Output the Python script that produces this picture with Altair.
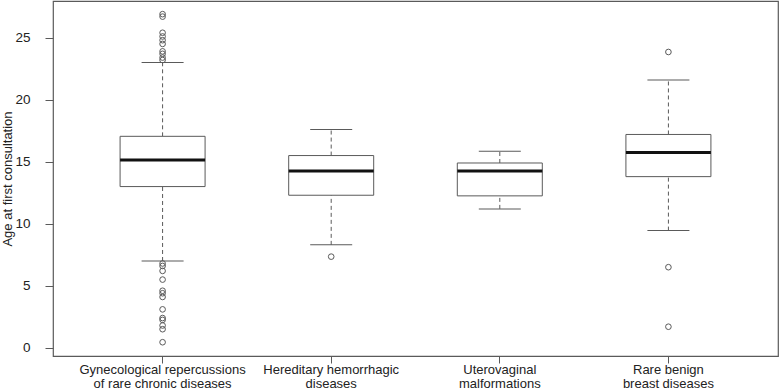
import altair as alt
import pandas as pd

categories = [
    "Gynecological repercussions|of rare chronic diseases",
    "Hereditary hemorrhagic|diseases",
    "Uterovaginal|malformations",
    "Rare benign|breast diseases",
]
lower_whisker = [7.0, 8.3, 11.2, 9.45]
q1 = [13.0, 12.3, 12.25, 13.8]
median = [15.15, 14.25, 14.25, 15.75]
q3 = [17.05, 15.5, 14.9, 17.2]
upper_whisker = [23.0, 17.6, 15.85, 21.6]

outliers_gyn = [26.9, 26.7, 25.4, 25.1, 24.8, 24.5, 23.9, 23.7, 23.4, 23.2,
                6.8, 6.6, 6.2, 5.5, 4.6, 4.4, 4.1, 3.1, 2.4, 2.25, 1.8, 1.5, 0.45]
outliers_hem = [7.35]
outliers_utero = []
outliers_breast = [23.85, 6.5, 1.7]

y_ticks = [0, 5, 10, 15, 20, 25]

stats = pd.DataFrame({
    "cat": categories,
    "lo": lower_whisker,
    "q1": q1,
    "med": median,
    "q3": q3,
    "hi": upper_whisker,
})
out_rows = []
for c, vals in zip(categories, [outliers_gyn, outliers_hem, outliers_utero, outliers_breast]):
    for v in vals:
        out_rows.append({"cat": c, "v": v})
outs = pd.DataFrame(out_rows)

FONT = "Liberation Sans"
GRAY = "#5a5a5a"

x = alt.X(
    "cat:N",
    sort=categories,
    scale=alt.Scale(paddingInner=0, paddingOuter=0.15),
    axis=alt.Axis(
        title=None,
        labelAngle=0,
        labelExpr="split(datum.value, '|')",
        labelFont=FONT,
        labelFontSize=13,
        labelColor="#222",
        labelLineHeight=14.5,
        labelPadding=0,
        tickSize=7,
        tickColor=GRAY,
        domain=False,
        labelBaseline="top",
    ),
)
yscale = alt.Scale(domain=[-0.66, 27.96], nice=False, zero=False)
yaxis = alt.Axis(
    title="Age at first consultation",
    titleFont=FONT,
    titleFontSize=13,
    titleFontWeight="normal",
    titleColor="#222",
    titlePadding=0,
    values=y_ticks,
    labelFont=FONT,
    labelFontSize=13.5,
    labelColor="#222",
    labelPadding=15,
    tickSize=8,
    tickColor=GRAY,
    domain=False,
    grid=False,
)

base = alt.Chart(stats)

whisk_up = base.mark_rule(color=GRAY, strokeWidth=1, strokeDash=[4, 3]).encode(
    x=x, y=alt.Y("q3:Q", scale=yscale, axis=yaxis), y2="hi:Q"
)
whisk_lo = base.mark_rule(color=GRAY, strokeWidth=1, strokeDash=[4, 3]).encode(
    x=x, y=alt.Y("lo:Q", scale=yscale), y2="q1:Q"
)
cap_hi = base.mark_tick(color=GRAY, size=42, thickness=1, opacity=1).encode(
    x=x, y=alt.Y("hi:Q", scale=yscale)
)
cap_lo = base.mark_tick(color=GRAY, size=42, thickness=1, opacity=1).encode(
    x=x, y=alt.Y("lo:Q", scale=yscale)
)
box = base.mark_bar(size=85, fill="white", stroke=GRAY, strokeWidth=1, opacity=1).encode(
    x=x, y=alt.Y("q1:Q", scale=yscale), y2="q3:Q"
)
med = base.mark_tick(color="#111", size=85, thickness=3, opacity=1).encode(
    x=x, y=alt.Y("med:Q", scale=yscale)
)
pts = alt.Chart(outs).mark_point(
    shape="circle", filled=False, size=32, stroke=GRAY, strokeWidth=1, opacity=1
).encode(x=x, y=alt.Y("v:Q", scale=yscale))

chart = alt.layer(whisk_up, whisk_lo, cap_hi, cap_lo, box, med, pts).properties(
    width=725,
    height=355,
    autosize=alt.AutoSizeParams(type="none"),
    padding={"left": 53, "top": 1, "right": 5, "bottom": 36},
    background="white",
).configure_view(stroke=GRAY, strokeWidth=1.2)

chart.save("out.html", embed_options={"renderer": "svg", "actions": False})
